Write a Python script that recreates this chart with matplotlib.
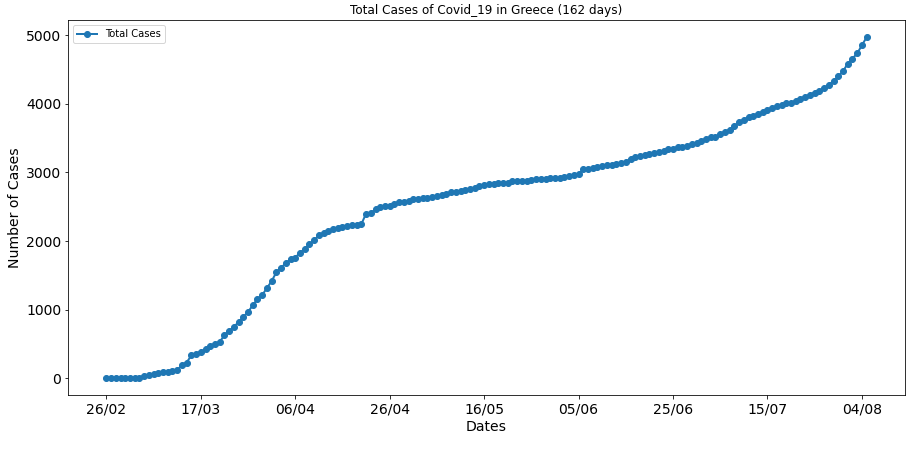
import numpy as np
import matplotlib
matplotlib.use("Agg")
import matplotlib.pyplot as plt

start = np.datetime64("2020-02-26")
cases = [1, 3, 4, 7, 7, 7, 7, 9, 31, 45, 66, 73, 84, 89, 99, 117, 190, 228, 331, 352,
         387, 418, 464, 495, 530, 624, 695, 743, 821, 892, 966, 1061, 1156, 1212, 1314,
         1415, 1544, 1613, 1673, 1735, 1755, 1832, 1884, 1955, 2011, 2081, 2114, 2145,
         2170, 2192, 2207, 2224, 2235, 2235, 2245, 2401, 2408, 2463, 2490, 2506, 2517,
         2534, 2566, 2576, 2591, 2612, 2620, 2626, 2632, 2642, 2663, 2678, 2691, 2710,
         2716, 2726, 2744, 2760, 2770, 2810, 2819, 2834, 2836, 2840, 2850, 2853, 2873,
         2876, 2878, 2882, 2892, 2903, 2906, 2909, 2915, 2917, 2918, 2937, 2952, 2967,
         2980, 3049, 3058, 3068, 3083, 3089, 3108, 3112, 3121, 3134, 3148, 3203, 3227,
         3237, 3256, 3266, 3287, 3302, 3310, 3340, 3343, 3366, 3376, 3390, 3409, 3432,
         3458, 3486, 3511, 3519, 3562, 3589, 3622, 3672, 3732, 3772, 3803, 3826, 3852,
         3883, 3910, 3939, 3964, 3983, 4007, 4012, 4048, 4077, 4103, 4135, 4166, 4193,
         4227, 4279, 4336, 4401, 4477, 4587, 4662, 4737, 4855, 4973]
days = np.arange(len(cases))
dates = start + days.astype("timedelta64[D]")
tick_pos = days[::20]
tick_lab = [str(d.astype(object).strftime("%d/%m")) for d in dates[::20]]

fig, ax = plt.subplots(figsize=(911 / 72, 449 / 72), dpi=72)
ax.plot(days, cases, "o-", color="#1f77b4", lw=2, ms=6, label="Total Cases")
ax.set_xticks(tick_pos)
ax.set_xticklabels(tick_lab, fontsize=14)
ax.tick_params(axis="y", labelsize=14)
ax.set_xlabel("Dates", fontsize=14)
ax.set_ylabel("Number of Cases", fontsize=14)
ax.set_title("Total Cases of Covid_19 in Greece (162 days)", fontsize=12)
ax.legend(loc="upper left", fontsize=10)
fig.subplots_adjust(left=0.075, right=0.993, top=0.955, bottom=0.12)
fig.savefig("out.png", dpi=72)
